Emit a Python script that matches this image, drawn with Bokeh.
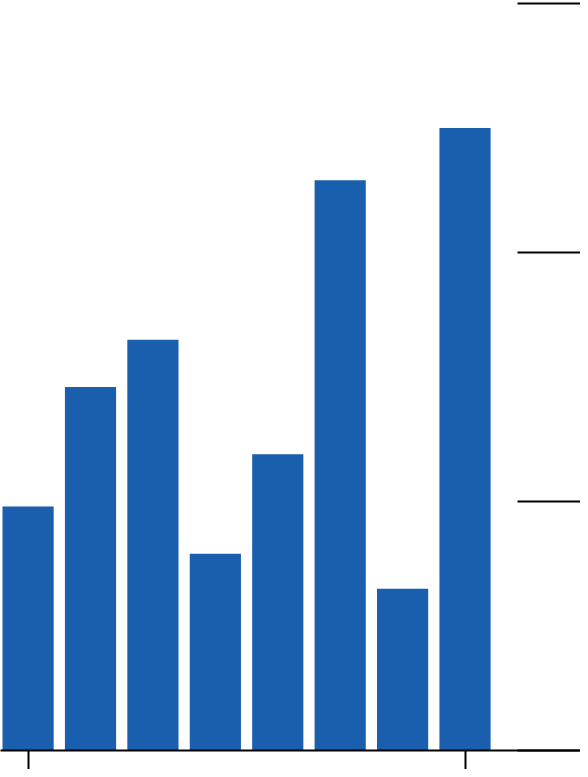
from bokeh.plotting import figure
from bokeh.models import FixedTicker, Range1d, CustomLabelingPolicy
from bokeh.embed import file_html
from bokeh.resources import INLINE

years = [2010, 2011, 2012, 2013, 2014, 2015, 2016, 2017]
values = [9.8, 14.6, 16.5, 7.9, 11.9, 22.9, 6.5, 25.0]
x_ticks = [2010, 2017]
y_ticks = [0, 10, 20, 30]

p = figure(width=580, height=769, output_backend="svg", toolbar_location=None,
           x_range=Range1d(2010 - 0.442, 2010 + 8.85), y_range=Range1d(0, 30.12),
           y_axis_location="right", min_border=0)
p.vbar(x=years, top=values, width=0.82, bottom=0, color="#1a5fad", line_color=None)

p.grid.visible = False
p.outline_line_color = None
p.background_fill_color = "white"
p.border_fill_color = "white"

hide_all = CustomLabelingPolicy(code="""
    for (const i of Array.from(indices)) { indices.unset(i) }
    return indices
""")

xa = p.xaxis[0]
xa.ticker = FixedTicker(ticks=x_ticks)
xa.minor_tick_line_color = None
xa.major_tick_in = 0
xa.major_tick_out = 19
xa.major_tick_line_width = 2
xa.major_tick_line_color = "black"
xa.axis_line_width = 2
xa.axis_line_color = "black"
xa.major_label_text_font_size = "0px"
xa.major_label_standoff = 0
xa.major_label_policy = hide_all

ya = p.yaxis[0]
ya.ticker = FixedTicker(ticks=y_ticks)
ya.minor_tick_line_color = None
ya.major_tick_in = 63
ya.major_tick_out = 0
ya.major_tick_line_width = 2
ya.major_tick_line_color = "black"
ya.axis_line_color = None
ya.major_label_text_font_size = "0px"
ya.major_label_standoff = 0
ya.major_label_policy = hide_all

open("out.html", "w").write(file_html(p, INLINE))
